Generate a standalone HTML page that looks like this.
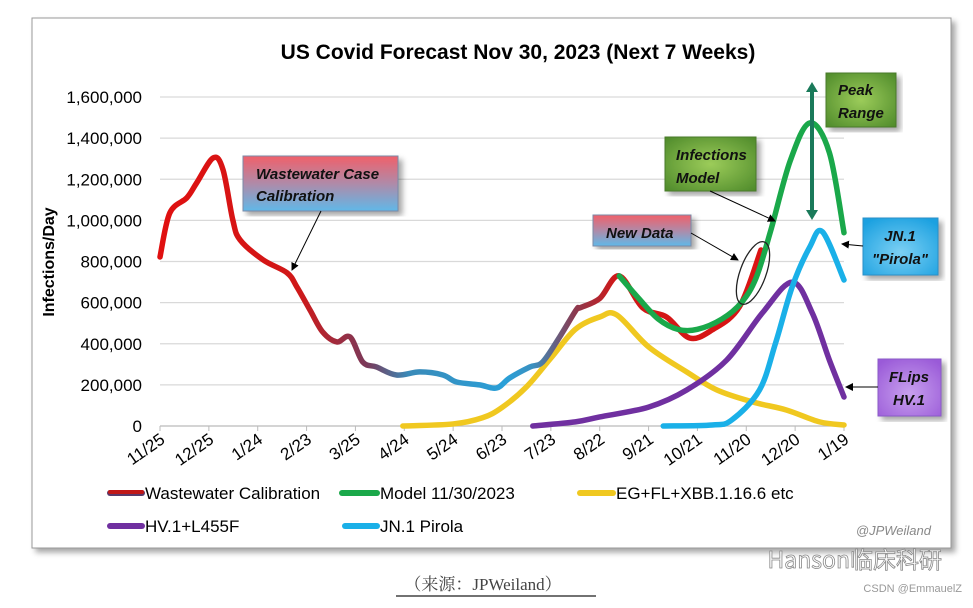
<!DOCTYPE html>
<html><head><meta charset="utf-8"><style>
body{margin:0;background:#fff;width:973px;height:603px;overflow:hidden;font-family:"Liberation Sans",sans-serif}
</style></head><body>
<svg width="973" height="603" xmlns="http://www.w3.org/2000/svg">
<defs>
<filter id="sh" x="-5%" y="-5%" width="115%" height="115%"><feDropShadow dx="4" dy="4" stdDeviation="3" flood-color="#000" flood-opacity="0.35"/></filter>
<linearGradient id="ww" gradientUnits="userSpaceOnUse" x1="160" y1="0" x2="850" y2="0">
<stop offset="0" stop-color="#e01010"/><stop offset="0.2" stop-color="#d01818"/><stop offset="0.3" stop-color="#7a3a5a"/><stop offset="0.36" stop-color="#3a8ab8"/><stop offset="0.5" stop-color="#2aa0d8"/><stop offset="0.54" stop-color="#3a90c0"/><stop offset="0.6" stop-color="#8a3a50"/><stop offset="0.66" stop-color="#d01818"/><stop offset="1" stop-color="#e01010"/></linearGradient>
<linearGradient id="rb" x1="0" y1="0" x2="0" y2="1"><stop offset="0" stop-color="#f0606a"/><stop offset="0.5" stop-color="#b08aa8"/><stop offset="1" stop-color="#60b8e8"/></linearGradient>
<radialGradient id="gr" cx="0.5" cy="0.5" r="0.7"><stop offset="0" stop-color="#9ccc5a"/><stop offset="1" stop-color="#4e8a2a"/></radialGradient>
<radialGradient id="bl" cx="0.5" cy="0.6" r="0.7"><stop offset="0" stop-color="#7cd0f4"/><stop offset="1" stop-color="#1aa0e0"/></radialGradient>
<radialGradient id="pu" cx="0.5" cy="0.6" r="0.7"><stop offset="0" stop-color="#c8a0ee"/><stop offset="1" stop-color="#9a5ad8"/></radialGradient>
<marker id="ar" markerWidth="8" markerHeight="8" refX="7" refY="4" orient="auto"><path d="M0,0 L8,4 L0,8 z" fill="#000"/></marker>
</defs>
<rect x="32" y="18" width="919" height="530" fill="#fff" stroke="#999" stroke-width="1" filter="url(#sh)"/>
<text x="518" y="59" text-anchor="middle" font-size="21" font-weight="bold">US Covid Forecast Nov 30, 2023 (Next 7 Weeks)</text>
<g id="grid"></g><g id="yt"></g><g id="xt"></g>
<text transform="translate(54,262) rotate(-90)" text-anchor="middle" font-size="16" font-weight="bold">Infections/Day</text>
<g id="series"></g>
<g>
<rect x="243" y="156" width="155" height="55" fill="url(#rb)" stroke="#7a8aa8" filter="url(#sh)"/>
<text x="256" y="179" font-size="15" font-weight="bold" font-style="italic" fill="#111">Wastewater Case</text>
<text x="256" y="201" font-size="15" font-weight="bold" font-style="italic" fill="#111">Calibration</text>
<line x1="321" y1="211" x2="292" y2="270" stroke="#000" marker-end="url(#ar)"/>
<rect x="593" y="215" width="98" height="31" fill="url(#rb)" stroke="#7a8aa8" filter="url(#sh)"/>
<text x="606" y="238" font-size="15" font-weight="bold" font-style="italic" fill="#111">New Data</text>
<line x1="691" y1="233" x2="738" y2="260" stroke="#000" marker-end="url(#ar)"/>
<ellipse cx="753" cy="273" rx="13" ry="33" transform="rotate(20 753 273)" fill="none" stroke="#222" stroke-width="1.3"/>
<rect x="665" y="137" width="91" height="54" fill="url(#gr)" stroke="#4a7a2a" filter="url(#sh)"/>
<text x="676" y="160" font-size="15" font-weight="bold" font-style="italic" fill="#111">Infections</text>
<text x="676" y="183" font-size="15" font-weight="bold" font-style="italic" fill="#111">Model</text>
<line x1="710" y1="191" x2="775" y2="221" stroke="#000" marker-end="url(#ar)"/>
<rect x="826" y="73" width="70" height="54" fill="url(#gr)" stroke="#4a7a2a" filter="url(#sh)"/>
<text x="838" y="95" font-size="15" font-weight="bold" font-style="italic" fill="#111">Peak</text>
<text x="838" y="118" font-size="15" font-weight="bold" font-style="italic" fill="#111">Range</text>
<g><line x1="812" y1="90" x2="812" y2="212" stroke="#1a7a5a" stroke-width="4"/><path d="M806,92 L812,82 L818,92 z M806,210 L812,220 L818,210 z" fill="#1a7a5a"/></g>
<rect x="863" y="218" width="75" height="57" fill="url(#bl)" stroke="#2a90c8" filter="url(#sh)"/>
<text x="900" y="241" text-anchor="middle" font-size="15" font-weight="bold" font-style="italic" fill="#111">JN.1</text>
<text x="900" y="264" text-anchor="middle" font-size="15" font-weight="bold" font-style="italic" fill="#111">"Pirola"</text>
<line x1="863" y1="246" x2="842" y2="244" stroke="#000" marker-end="url(#ar)"/>
<rect x="878" y="359" width="63" height="57" fill="url(#pu)" stroke="#8a5ac8" filter="url(#sh)"/>
<text x="909" y="382" text-anchor="middle" font-size="15" font-weight="bold" font-style="italic" fill="#111">FLips</text>
<text x="909" y="405" text-anchor="middle" font-size="15" font-weight="bold" font-style="italic" fill="#111">HV.1</text>
<line x1="878" y1="387" x2="846" y2="387" stroke="#000" marker-end="url(#ar)"/>
</g>
<g font-size="17" font-family="Liberation Sans Narrow, Liberation Sans, sans-serif">
<g><line x1="110" y1="493" x2="142" y2="493" stroke="#5a3a6a" stroke-width="6" stroke-linecap="round"/><line x1="110" y1="492" x2="142" y2="492" stroke="#c01818" stroke-width="4" stroke-linecap="round"/><text x="145" y="499">Wastewater Calibration</text></g>
<g><line x1="342" y1="493" x2="377" y2="493" stroke="#1aa84a" stroke-width="6" stroke-linecap="round"/><text x="380" y="499">Model 11/30/2023</text></g>
<g><line x1="580" y1="493" x2="613" y2="493" stroke="#f0c820" stroke-width="6" stroke-linecap="round"/><text x="616" y="499">EG+FL+XBB.1.16.6 etc</text></g>
<g><line x1="110" y1="526" x2="142" y2="526" stroke="#7030a0" stroke-width="6" stroke-linecap="round"/><text x="145" y="532">HV.1+L455F</text></g>
<g><line x1="345" y1="526" x2="377" y2="526" stroke="#1ab0e8" stroke-width="6" stroke-linecap="round"/><text x="380" y="532">JN.1 Pirola</text></g>
</g>
<text x="931" y="535" text-anchor="end" font-size="13" font-style="italic" fill="#888">@JPWeiland</text>
<text x="942" y="568" text-anchor="end" font-size="23" fill="#fff" stroke="#888" stroke-width="0.8" font-family="Liberation Sans Narrow,Noto Sans CJK SC,sans-serif">Hanson临床科研</text>
<text x="962" y="592" text-anchor="end" font-size="11" fill="#999">CSDN @EmmauelZ</text>
<text x="483" y="590" text-anchor="middle" font-size="17" fill="#444" font-family="Liberation Serif,Noto Serif CJK SC,serif">（来源：JPWeiland）</text>
<line x1="396" y1="596" x2="596" y2="596" stroke="#444" stroke-width="1.5"/>
</svg>
<script>
const xTickLabels=["11/25","12/25","1/24","2/23","3/25","4/24","5/24","6/23","7/23","8/22","9/21","10/21","11/20","12/20","1/19"];
const yTicks=[0,200000,400000,600000,800000,1000000,1200000,1400000,1600000];
const wwT=[0,0.2,0.55,0.75,1.09,1.29,1.49,1.64,2.11,2.6,2.8,3.07,3.33,3.62,3.89,4.15,4.43,4.84,5.32,5.79,6.07,6.54,6.89,7.16,7.57,7.83,8.18,8.52,8.6,9.0,9.4,9.88,10.37,10.84,11.3,11.86,12.3];
const wwV=[822,1036,1110,1182,1304,1246,1002,905,808,745,677,564,457,409,433,311,287,248,263,248,214,200,185,234,287,311,433,565,575,620,730,575,530,428,467,580,856];
const modelT=[9.4,9.8,10.2,10.6,11.0,11.5,11.9,12.2,12.5,12.9,13.3,13.7,14];
const modelV=[730,620,520,470,470,520,600,720,950,1290,1474,1330,940];
const egT=[4.97,6,6.6,7.0,7.5,8,8.5,9.0,9.35,10,10.78,11.4,12.13,12.82,13.5,14];
const egV=[0,10,40,90,190,330,470,530,540,385,263,175,117,78,20,5];
const hvT=[7.63,8.5,9,10,10.78,11.6,12.33,12.94,13.35,13.7,14];
const hvV=[0,20,44,92,175,321,550,700,550,321,141];
const jnT=[10.3,11.3,11.7,12.27,12.6,12.94,13.3,13.56,14];
const jnV=[0,5,29,175,404,677,871,944,710];
const NS="http://www.w3.org/2000/svg";
const X0=160,X1=844,Y0=426,Y1=97;
function xs(t){return X0+(X1-X0)*t/14;}
function ys(v){return Y0-(Y0-Y1)*v/1600000;}
function mk(tag,attrs,parent){const e=document.createElementNS(NS,tag);for(const k in attrs)e.setAttribute(k,attrs[k]);parent.appendChild(e);return e;}
const grid=document.getElementById('grid'),yt=document.getElementById('yt'),xt=document.getElementById('xt'),ser=document.getElementById('series');
yTicks.forEach(v=>{
 const l=mk('line',{x1:X0,x2:X1,y1:ys(v),y2:ys(v),stroke:v===0?'#bbb':'#d9d9d9','stroke-width':1.3},grid);
 
 
 const t=mk('text',{x:142,y:ys(v)+6,'text-anchor':'end','font-size':17},yt);
 t.textContent=v.toLocaleString('en-US');
 
 
});
xTickLabels.forEach((s,i)=>{
 const x=xs(i);
 const l=mk('line',{x1:x,x2:x,y1:Y0,y2:Y0+5,stroke:'#bbb'},xt);
 
 
 const t=mk('text',{transform:`translate(${x+6},${Y0+16}) rotate(-35)`,'text-anchor':'end','font-size':17},xt);
 t.textContent=s;
 
 
});
function path(T,V){
 const p=T.map((t,i)=>[xs(t),ys(V[i]*1000)]);
 let d=`M${p[0][0]},${p[0][1]}`;
 for(let i=0;i<p.length-1;i++){
  const a=p[Math.max(0,i-1)],b=p[i],c=p[i+1],e=p[Math.min(p.length-1,i+2)];
  const c1=[b[0]+(c[0]-a[0])/6,b[1]+(c[1]-a[1])/6],c2=[c[0]-(e[0]-b[0])/6,c[1]-(e[1]-b[1])/6];
  d+=` C${c1[0]},${c1[1]} ${c2[0]},${c2[1]} ${c[0]},${c[1]}`;
 }
 return d;
}
function draw(T,V,color,name){
 const e=mk('path',{d:path(T,V),fill:'none',stroke:color,'stroke-width':5.5,'stroke-linecap':'round','stroke-linejoin':'round'},ser);
 
 
}
draw(egT,egV,'#f0c820','series-eg-fl-xbb');
draw(hvT,hvV,'#7030a0','series-hv1');
draw(jnT,jnV,'#1ab0e8','series-jn1');
draw(wwT,wwV,'url(#ww)','series-wastewater');
draw(modelT,modelV,'#1aa84a','series-model');
</script>
</body></html>
